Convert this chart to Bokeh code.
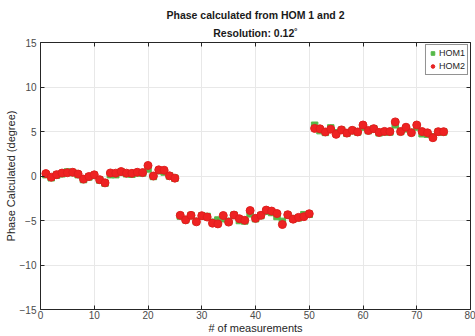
from bokeh.plotting import figure
from bokeh.models import LinearAxis, Range1d, FixedTicker, Legend, LegendItem, Title
from bokeh.embed import file_html
from bokeh.resources import INLINE

measurement = list(range(1, 76))

hom2 = [0.27, -0.13, 0.15, 0.33, 0.37, 0.42, 0.22, -0.35, -0.06, 0.13,
        -0.41, -0.77, 0.34, 0.32, 0.5, 0.32, 0.3, 0.42, 0.38, 1.18,
        0.0, 0.69, 0.65, 0.02, -0.24,
        -4.42, -4.93, -4.42, -5.15, -4.46, -4.61, -5.3, -5.38, -4.44, -5.18,
        -4.39, -4.8, -4.98, -3.88, -4.76, -4.42, -3.83, -3.94, -4.22, -5.45,
        -4.35, -4.85, -4.65, -4.57, -4.24,
        5.35, 5.3, 4.95, 5.26, 4.68, 5.18, 4.82, 5.13, 4.95, 5.73,
        5.12, 5.32, 4.9, 5.01, 4.99, 6.08, 4.99, 5.48, 4.87, 5.73,
        4.99, 4.85, 4.3, 4.98, 4.98]

hom1 = [0.15, -0.2, 0.1, 0.25, 0.45, 0.38, 0.15, -0.4, -0.1, 0.08,
        -0.45, -0.8, 0.15, 0.15, 0.45, 0.25, 0.2, 0.35, 0.35, 0.8,
        -0.05, 0.6, 0.45, 0.0, -0.25,
        -4.5, -4.9, -4.45, -5.1, -4.5, -4.55, -5.2, -4.95, -4.8, -5.1,
        -4.4, -5.0, -5.05, -4.25, -4.8, -4.45, -3.95, -4.1, -4.55, -5.1,
        -4.4, -4.8, -4.7, -4.35, -4.3,
        5.7, 5.1, 4.9, 5.4, 4.85, 5.15, 4.8, 5.1, 4.95, 5.5,
        5.1, 5.3, 4.85, 4.95, 4.95, 5.75, 5.0, 5.3, 4.9, 5.5,
        4.75, 4.7, 4.4, 4.95, 4.95]

x_ticks = [0, 10, 20, 30, 40, 50, 60, 70, 80]
y_ticks = [-15, -10, -5, 0, 5, 10, 15]

title_line1 = "Phase calculated from HOM 1 and 2"
title_line2 = "Resolution: 0.12\u02da"
x_label = "# of measurements"
y_label = "Phase Calculated (degree)"

AX = "#262626"
FONT = "Liberation Sans"

p = figure(width=475, height=336, output_backend="svg", toolbar_location=None,
           x_range=Range1d(0, 80), y_range=Range1d(-15, 15),
           min_border_left=40, min_border_right=5, min_border_top=42, min_border_bottom=25)
p.outline_line_color = None
p.background_fill_color = "white"
p.title.text = ""

for ax in (p.xaxis[0], p.yaxis[0]):
    ax.major_tick_in = 4
    ax.major_tick_out = 0
    ax.minor_tick_line_color = None
    ax.axis_line_color = AX
    ax.major_tick_line_color = AX
    ax.major_label_text_color = "#4a4a4a"
    ax.major_label_text_font = FONT
    ax.major_label_text_font_size = "10px"
    ax.axis_label_text_font = FONT
    ax.axis_label_text_font_size = "11px"
    ax.axis_label_text_font_style = "normal"
    ax.axis_label_text_color = AX
    ax.axis_label_standoff = 0
p.xaxis[0].ticker = FixedTicker(ticks=x_ticks)
p.yaxis[0].ticker = FixedTicker(ticks=y_ticks)
p.xaxis[0].major_label_standoff = 1
p.yaxis[0].major_label_standoff = 4
p.xaxis[0].axis_label = x_label
p.yaxis[0].axis_label = y_label

top_ax = LinearAxis(ticker=FixedTicker(ticks=x_ticks))
right_ax = LinearAxis(ticker=FixedTicker(ticks=y_ticks))
for ax in (top_ax, right_ax):
    ax.major_tick_in = 4
    ax.major_tick_out = 0
    ax.minor_tick_line_color = None
    ax.axis_line_color = AX
    ax.major_tick_line_color = AX
    ax.major_label_text_font_size = "0px"
    ax.major_label_text_color = None
    ax.major_label_standoff = 0
p.add_layout(top_ax, "above")
p.add_layout(right_ax, "right")

t2 = Title(text=title_line2, align="center", text_font=FONT, text_font_style="bold",
           text_font_size="10.5px", text_color="#1a1a1a", standoff=7, offset=0)
t1 = Title(text=title_line1, align="center", text_font=FONT, text_font_style="bold",
           text_font_size="10.5px", text_color="#1a1a1a", standoff=1, offset=0)
p.add_layout(t2, "above")
p.add_layout(t1, "above")

p.xgrid.ticker = FixedTicker(ticks=x_ticks)
p.ygrid.ticker = FixedTicker(ticks=y_ticks)
p.xgrid.grid_line_color = "#e8e8e8"
p.ygrid.grid_line_color = "#e8e8e8"

r1 = p.scatter(measurement, hom1, marker="square", size=6.5, fill_color="#55b848",
               line_color="#55b848")
r2 = p.scatter(measurement, hom2, marker="circle", size=8, fill_color="#ee2222",
               line_color="#e01e1e")

legend = Legend(items=[LegendItem(label="HOM1", renderers=[r1]),
                       LegendItem(label="HOM2", renderers=[r2])],
                location="top_right")
legend.margin = 2
legend.padding = 2
legend.spacing = 1
legend.glyph_width = 9
legend.glyph_height = 12
legend.label_height = 12
legend.label_width = 10
legend.label_standoff = 2
legend.label_text_font = FONT
legend.label_text_font_size = "9px"
legend.label_text_color = AX
legend.border_line_color = AX
legend.border_line_width = 1
legend.background_fill_alpha = 1
p.add_layout(legend)

open("out.html", "w").write(file_html(p, INLINE))
